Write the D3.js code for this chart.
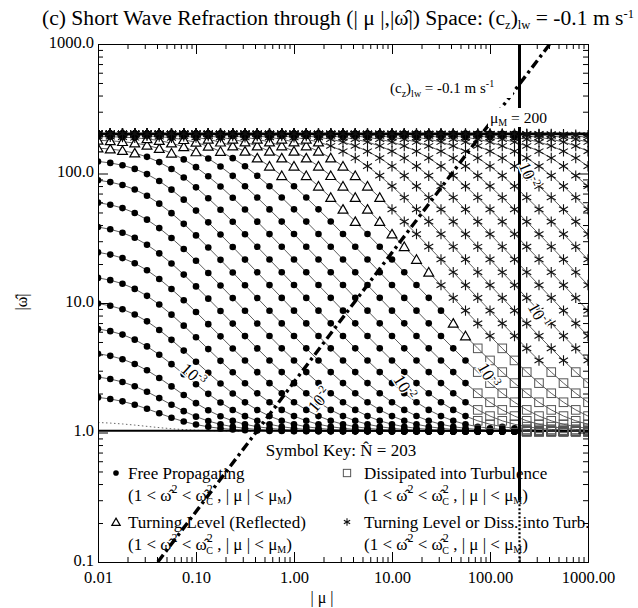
<!DOCTYPE html>
<html><head><meta charset="utf-8">
<script src="https://cdn.jsdelivr.net/npm/d3@7"></script>
<style>
body{margin:0;background:#fff}
svg{display:block}
text{font-family:"Liberation Serif","Times New Roman",serif;fill:#000}
</style>
</head><body>
<svg id="chart" width="638" height="608"></svg>
<script>
// ---------------- data ----------------
// |mu| sample columns (markers sit on these columns)
const muGrid = [0.0100,0.01334,0.01778,0.02371,0.03162,0.04217,0.05623,0.07499,
  0.1000,0.1334,0.1778,0.2371,0.3162,0.4217,0.5623,0.7499,
  1.000,1.334,1.778,2.371,3.162,4.217,5.623,7.499,
  10.00,13.34,17.78,23.71,31.62,42.17,56.23,74.99,
  100.0,133.4,177.8,237.1,316.2,421.7,562.3,749.9,1000];
// strength (log10) of each refraction curve, read from the left-edge intercepts
const curveLogA = [0.44,0.84,1.24,1.64,2.04,2.44,2.84,3.24,3.64,4.04,4.44,4.84,5.24,
  5.64,6.04,6.44,6.84,7.24,7.64,8.04,8.44,8.84,9.24,9.64,10.04,10.44,10.84,11.24,
  11.64,12.04,12.44,12.84,13.24];
const dottedCurveLogA = [-0.36];
const Nhat = 203;          // buoyancy cap (omega_c)
const muM = 200;           // mu_M
const kneeMu = 0.025;
const decayExp = 0.8;
const floorOmega = 1.02;
const lwLine = [[0.0408,0.1],[408,1000]];   // (c_z)_lw = -0.1 m/s line
const muMSolid = [[200,1000],[200,0.3]];
const muMDotted = [[200,0.3],[200,0.1]];
// symbol region boundaries [mu, omega]
const triLower = [[0.01,141],[0.25,141],[1.29,74],[9.5,28],[41,6.9],[100,3.2]];
const triUpper = [[2,186],[9.5,55],[41,8.9],[100,4]];
const capOmega = 186;
const sqMuMin = 60, sqOmegaMax = 5.2, sqOmegaMin = 1.11, sqRightOmegaMax = 3.55;
const bandOmega = 1.03;
// axes
const xTickValues = [0.01,0.1,1,10,100,1000];
const xTickLabels = ["0.01","0.10","1.00","10.00","100.00","1000.00"];
const yTickValues = [0.1,1,10,100,1000];
const yTickLabels = ["0.1","1.0","10.0","100.0","1000.0"];
// contour labels: [mu, omega, exponent, angle]
const contourLabels = [[0.093,2.75,"-3",42],[1.84,1.77,"-2",-50],[13.2,2.22,"-2",58],[95,2.75,"-3",60],[309,8.0,"-1",60],[245,97,"-2",68]];

// ---------------- drawing ----------------
const svg = d3.select("#chart");
const x = d3.scaleLog().domain([0.01,1000]).range([98,588]);
const y = d3.scaleLog().domain([0.1,1000]).range([562,44]);
const L = Math.log10;

svg.append("defs").append("clipPath").attr("id","clip")
  .append("rect").attr("x",98).attr("y",44).attr("width",490).attr("height",518);

function omegaHat(mu, logA){
  const h = Math.pow(1 + (mu/kneeMu)*(mu/kneeMu), -decayExp);
  const Ah = Math.pow(10, logA)*h;
  const f2 = floorOmega*floorOmega;
  return Math.sqrt(f2 + 1/(1/(Nhat*Nhat-f2) + 1/Ah));
}
function bnd(b, mu){
  const X = L(mu);
  if (mu <= b[0][0]) return L(b[0][1]);
  for (let i=1;i<b.length;i++){
    if (mu <= b[i][0] || i===b.length-1){
      const X0=L(b[i-1][0]), X1=L(b[i][0]); const t=(X-X0)/(X1-X0);
      return L(b[i-1][1])*(1-t)+L(b[i][1])*t;
    }
  }
}
function classify(mu, w){
  const Y = L(w);
  if (w > capOmega) return mu < muM ? "capmix" : "star";
  if (mu > muM) return w < sqRightOmegaMax ? "square" : "star";
  if (mu > sqMuMin && w < sqOmegaMax) return w < sqOmegaMin ? "dot" : "square";
  if (Y < bnd(triLower, mu)) return "dot";
  if (Y <= bnd(triUpper, mu)) return "tri";
  return "star";
}

const plot = svg.append("g").attr("clip-path","url(#clip)");
const line = d3.line().x(d=>x(d[0])).y(d=>y(d[1]));

const curves = curveLogA.map(a => muGrid.map(m => [m, omegaHat(m, a)]));
plot.append("g").selectAll("path").data(curves).join("path")
  .attr("d", line).attr("fill","none").attr("stroke","#333").attr("stroke-width",0.8);
plot.append("g").selectAll("path").data(dottedCurveLogA.map(a=>muGrid.slice(0,14).map(m=>[m,omegaHat(m,a)])))
  .join("path").attr("d",line).attr("fill","none").attr("stroke","#555")
  .attr("stroke-width",0.9).attr("stroke-dasharray","1.5,2.5");

// thick cap and band lines
plot.append("path").attr("d", line([[0.01,Nhat],[1000,Nhat]])).attr("stroke","#000").attr("stroke-width",2.4);
plot.append("path").attr("d", line([[0.01,bandOmega],[1000,bandOmega]])).attr("stroke","#000").attr("stroke-width",2);

// markers
const pts = [];
curves.forEach(c => c.forEach(p => pts.push({mu:p[0], w:p[1], c:classify(p[0],p[1])})));
const star = r => { let s=""; [90,30,150].forEach(a=>{const dx=r*Math.cos(a*Math.PI/180), dy=r*Math.sin(a*Math.PI/180); s+=`M${-dx},${-dy}L${dx},${dy}`;}); return s; };
const mk = plot.append("g");
function drawMarker(g, type, cx, cy, scale){
  scale = scale||1;
  if (type==="dot" || type==="capmix")
    g.append("circle").attr("cx",cx).attr("cy",cy).attr("r",3.3*scale).attr("fill","#000");
  if (type==="tri")
    g.append("path").attr("transform",`translate(${cx},${cy+1})`).attr("d",d3.symbol(d3.symbolTriangle,42*scale*scale)())
      .attr("fill","#fff").attr("stroke","#000").attr("stroke-width",1.2);
  if (type==="square")
    g.append("rect").attr("x",cx-4.3*scale).attr("y",cy-4.3*scale).attr("width",8.6*scale).attr("height",8.6*scale)
      .attr("fill","none").attr("stroke","#555").attr("stroke-width",1);
  if (type==="star" || type==="capmix")
    g.append("path").attr("transform",`translate(${cx},${cy})`).attr("d",star(5.2*scale))
      .attr("stroke","#111").attr("stroke-width",1.1).attr("fill","none");
}
pts.forEach(p => drawMarker(mk, p.c, x(p.mu), y(p.w)));

// (c_z)_lw line and mu_M line
plot.append("path").attr("d", line(lwLine)).attr("stroke","#000").attr("stroke-width",3.4)
  .attr("stroke-dasharray","9,4,3,4").attr("fill","none");
plot.append("path").attr("d", line(muMSolid)).attr("stroke","#000").attr("stroke-width",3);
plot.append("path").attr("d", line(muMDotted)).attr("stroke","#000").attr("stroke-width",2.2).attr("stroke-dasharray","2,2");

// axes
const fmtX = d => xTickLabels[xTickValues.indexOf(d)];
const fmtY = d => yTickLabels[yTickValues.indexOf(d)];
const minorX = [], minorY = [];
for (let e=-2;e<3;e++) for (let k=2;k<10;k++) minorX.push(k*Math.pow(10,e));
for (let e=-1;e<3;e++) for (let k=2;k<10;k++) minorY.push(k*Math.pow(10,e));
function addAxis(axisFn, scale, tr, vals, size, fmt, pad){
  const g = svg.append("g").attr("transform",tr)
    .call(axisFn(scale).tickValues(vals).tickSize(size).tickSizeOuter(0).tickPadding(fmt?pad:0).tickFormat(fmt||""));
  g.selectAll("text").attr("font-family","Liberation Serif, serif").attr("font-size",16.5).attr("fill","#000");
  g.selectAll("line,path").attr("stroke","#000");
  return g;
}
addAxis(d3.axisBottom, x, "translate(0,562)", xTickValues, -10, fmtX, 9);
addAxis(d3.axisBottom, x, "translate(0,562)", minorX, -5);
addAxis(d3.axisTop, x, "translate(0,44)", xTickValues, -10);
addAxis(d3.axisTop, x, "translate(0,44)", minorX, -5);
addAxis(d3.axisLeft, y, "translate(98,0)", yTickValues, -10, fmtY, 4).selectAll("text").attr("dy","0.2em");
addAxis(d3.axisLeft, y, "translate(98,0)", minorY, -5);
addAxis(d3.axisRight, y, "translate(588,0)", yTickValues, -10);
addAxis(d3.axisRight, y, "translate(588,0)", minorY, -5);

// rich text helper
function rich(g, px, py, segs, size, anchor){
  const t = g.append("text").attr("x",px).attr("y",py).attr("font-size",size).attr("text-anchor",anchor||"start");
  let prev = 0;
  segs.forEach(s => {
    const sh = s.sh||0;
    const ts = t.append("tspan").attr("dy", sh-prev).text(s.t);
    if (s.fs) ts.attr("font-size", s.fs);
    if (s.dx) ts.attr("dx", s.dx);
    prev = sh;
  });
  return t;
}
const W = "\u03C9\u0302";
// title
rich(svg, 42, 25, [{t:"(c) Short Wave Refraction through (| \u03BC |,|"+W+"|) Space: (c"},{t:"z",sh:4,fs:12.5},{t:")"},{t:"lw",sh:4,fs:12.5},
  {t:" = -0.1 m s"},{t:"-1",sh:-7,fs:12.5}], 21.6);
// axis titles
svg.append("text").attr("x",322).attr("y",603).attr("text-anchor","middle").attr("font-size",16).text("| \u03BC |");
svg.append("text").attr("transform","translate(27,302) rotate(-90)").attr("text-anchor","middle").attr("font-size",16).text("|"+W+"|");

// labels in plot
svg.append("rect").attr("x",387).attr("y",75).attr("width",126).attr("height",23).attr("fill","#fff");
rich(svg, 390, 93, [{t:"(c"},{t:"z",sh:4,fs:10},{t:")"},{t:"lw",sh:4,fs:10},{t:" = -0.1 m s"},{t:"-1",sh:-6,fs:10}], 15);
svg.append("rect").attr("x",488).attr("y",108).attr("width",58).attr("height",19).attr("fill","#fff");
rich(svg, 490, 123, [{t:"\u03BC"},{t:"M",sh:3,fs:10},{t:" = 200"}], 15.5);

contourLabels.forEach(c => {
  const t = rich(svg, 0, 0, [{t:"10"},{t:c[2],sh:-7,fs:11}], 17, "middle");
  t.attr("transform",`translate(${x(c[0])},${y(c[1])}) rotate(${c[3]})`)
   .attr("x",0).attr("y",5).attr("stroke","#fff").attr("stroke-width",3).attr("paint-order","stroke");
});

// legend
const lg = svg.append("g");
const FS = 17;
rich(lg, 341, 456, [{t:"Symbol Key: N\u0302 = 203"}], FS, "middle");
const cond = (rel) => [{t:"(1 < "+W},{t:"2",sh:-8,fs:12},{t:"  "+rel+" "+W},{t:"2",sh:-8,fs:12},{t:"C",sh:4,fs:10,dx:-6.5},
  {t:" , | \u03BC | < \u03BC"},{t:"M",sh:3,fs:10},{t:")"}];
drawMarker(lg, "dot", 116, 473, 0.85);
rich(lg, 128, 479, [{t:"Free Propagating"}], FS);
rich(lg, 128, 501, cond("<"), FS);
drawMarker(lg, "tri", 116, 522, 0.85);
rich(lg, 128, 528, [{t:"Turning Level (Reflected)"}], FS);
rich(lg, 128, 550, cond("<"), FS);
drawMarker(lg, "square", 347, 473, 0.85);
rich(lg, 364, 479, [{t:"Dissipated into Turbulence"}], FS);
rich(lg, 364, 501, cond("<"), FS);
drawMarker(lg, "star", 347, 522, 0.7);
rich(lg, 364, 528, [{t:"Turning Level or Diss. into Turb."}], FS);
rich(lg, 364, 550, cond("<"), FS);
</script>
</body></html>
